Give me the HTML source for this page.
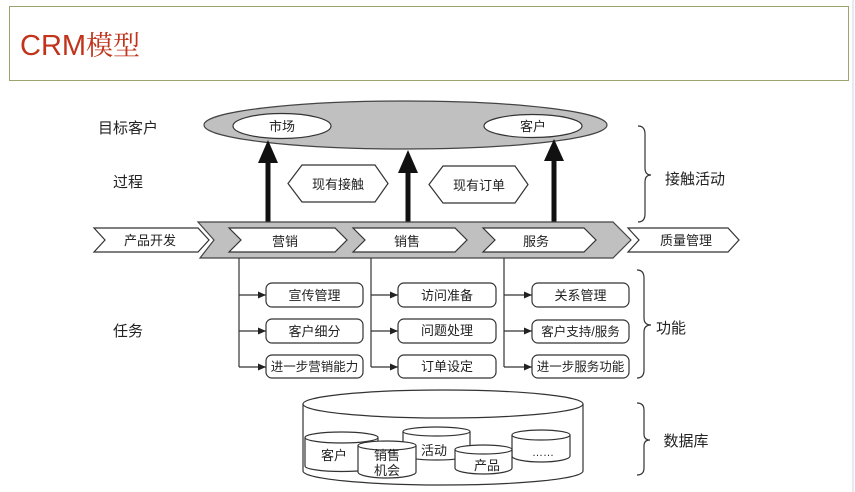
<!DOCTYPE html>
<html><head><meta charset="utf-8"><style>
html,body{margin:0;padding:0;background:#fff;}
body{width:855px;height:492px;position:relative;overflow:hidden;}
.title{position:absolute;left:9px;top:6px;width:840px;height:75px;border:1.5px solid #9ba46c;box-sizing:border-box;background:#fff;}
.title span{position:absolute;left:10px;top:20px;font-family:"Liberation Sans","Noto Sans CJK SC",sans-serif;font-size:29px;color:#c1331a;line-height:34px;white-space:nowrap;}
.title span b{font-weight:normal;font-family:"Noto Serif CJK SC","Liberation Serif",serif;font-size:27px;}
svg{position:absolute;left:0;top:0;}
text{font-family:"Liberation Sans","Noto Sans CJK SC",sans-serif;fill:#222;}
</style></head><body>
<div style="position:absolute;left:852px;top:0;width:2px;height:492px;background:#e9e9ef;"></div>
<div class="title"><span>CRM<b>模型</b></span></div>
<svg width="855" height="492" viewBox="0 0 855 492" xmlns="http://www.w3.org/2000/svg">
<defs>
<marker id="ah" markerWidth="8" markerHeight="8" refX="8" refY="4" orient="auto" markerUnits="userSpaceOnUse">
<path d="M0,0.5 L8,4 L0,7.5 Z" fill="#222"/>
</marker>
</defs>
<!-- big ellipse -->
<ellipse cx="405.5" cy="125" rx="201.5" ry="24" fill="#c0c0c0" stroke="#444" stroke-width="1.2"/>
<ellipse cx="282" cy="126" rx="49" ry="12.5" fill="#fff" stroke="#333" stroke-width="1.2"/>
<text x="282" y="131" font-size="13" text-anchor="middle">市场</text>
<ellipse cx="533" cy="126" rx="49" ry="11.5" fill="#fff" stroke="#333" stroke-width="1.2"/>
<text x="533" y="131" font-size="13" text-anchor="middle">客户</text>

<!-- left labels -->
<text x="128" y="133" font-size="15" text-anchor="middle">目标客户</text>
<text x="128" y="187" font-size="15" text-anchor="middle">过程</text>
<text x="128" y="336" font-size="15" text-anchor="middle">任务</text>

<!-- arrows -->
<rect x="265.5" y="160" width="5" height="63" fill="#111"/>
<polygon points="268,140 258,163 278,163" fill="#111"/>
<rect x="405.5" y="170" width="5" height="53" fill="#111"/>
<polygon points="408,150 398,173 418,173" fill="#111"/>
<rect x="551.5" y="158" width="5" height="65" fill="#111"/>
<polygon points="554,139 544,161 564,161" fill="#111"/>

<!-- hexagons -->
<polygon points="288,183.5 302,165 375,165 388,183.5 375,202 302,202" fill="#fff" stroke="#333" stroke-width="1.2"/>
<text x="338" y="189" font-size="13" text-anchor="middle">现有接触</text>
<polygon points="429,184.5 443,166 515,166 528,184.5 515,203 443,203" fill="#fff" stroke="#333" stroke-width="1.2"/>
<text x="479" y="190" font-size="13" text-anchor="middle">现有订单</text>

<!-- brace 接触活动 -->
<path d="M638,126 Q645,126 645,134 L645,168 Q645,175 651,175 Q645,175 645,182 L645,214 Q645,222 638,222" fill="none" stroke="#333" stroke-width="1.2"/>
<text x="695" y="184" font-size="15" text-anchor="middle">接触活动</text>

<!-- gray process bar -->
<polygon points="198,222 613,222 631,240 613,258 200,258 214,240" fill="#c0c0c0" stroke="#444" stroke-width="1.2"/>
<!-- chevrons -->
<polygon points="94,228 198,228 209,240 198,252 94,252 105,240" fill="#fff" stroke="#333" stroke-width="1.2"/>
<text x="150" y="245" font-size="13" text-anchor="middle">产品开发</text>
<polygon points="229,228 335,228 347,240 335,252 229,252 241,240" fill="#fff" stroke="#333" stroke-width="1.2"/>
<text x="285" y="246" font-size="13" text-anchor="middle">营销</text>
<polygon points="353,228 455,228 467,240 455,252 353,252 365,240" fill="#fff" stroke="#333" stroke-width="1.2"/>
<text x="407" y="246" font-size="13" text-anchor="middle">销售</text>
<polygon points="483,228 584,228 596,240 584,252 483,252 495,240" fill="#fff" stroke="#333" stroke-width="1.2"/>
<text x="536" y="246" font-size="13" text-anchor="middle">服务</text>
<polygon points="628,228 728,228 739,240 728,252 628,252 639,240" fill="#fff" stroke="#333" stroke-width="1.2"/>
<text x="686" y="245" font-size="13" text-anchor="middle">质量管理</text>

<!-- task trees -->
<g stroke="#333" stroke-width="1.2" fill="none">
<line x1="239" y1="258" x2="239" y2="367"/>
<line x1="239" y1="295" x2="266" y2="295" marker-end="url(#ah)"/>
<line x1="239" y1="331" x2="266" y2="331" marker-end="url(#ah)"/>
<line x1="239" y1="367" x2="266" y2="367" marker-end="url(#ah)"/>
<line x1="371" y1="258" x2="371" y2="367"/>
<line x1="371" y1="295" x2="398" y2="295" marker-end="url(#ah)"/>
<line x1="371" y1="331" x2="398" y2="331" marker-end="url(#ah)"/>
<line x1="371" y1="367" x2="398" y2="367" marker-end="url(#ah)"/>
<line x1="504" y1="258" x2="504" y2="367"/>
<line x1="504" y1="295" x2="532" y2="295" marker-end="url(#ah)"/>
<line x1="504" y1="331" x2="532" y2="331" marker-end="url(#ah)"/>
<line x1="504" y1="367" x2="532" y2="367" marker-end="url(#ah)"/>
</g>
<g fill="#fff" stroke="#333" stroke-width="1.2">
<rect x="266" y="283" width="97" height="24" rx="6"/>
<rect x="266" y="319" width="97" height="24" rx="6"/>
<rect x="266" y="355" width="97" height="23" rx="6"/>
<rect x="398" y="283" width="98" height="24" rx="6"/>
<rect x="398" y="319" width="98" height="24" rx="6"/>
<rect x="398" y="355" width="98" height="23" rx="6"/>
<rect x="532" y="283" width="97" height="24" rx="6"/>
<rect x="532" y="320" width="97" height="23" rx="6"/>
<rect x="532" y="355" width="97" height="23" rx="6"/>
</g>
<g font-size="13" text-anchor="middle">
<text x="314.5" y="300">宣传管理</text>
<text x="314.5" y="336">客户细分</text>
<text x="314.5" y="371" font-size="12.5">进一步营销能力</text>
<text x="447" y="300">访问准备</text>
<text x="447" y="335">问题处理</text>
<text x="447" y="371">订单设定</text>
<text x="580.5" y="300">关系管理</text>
<text x="580.5" y="336" font-size="12.5">客户支持/服务</text>
<text x="580.5" y="371" font-size="12.5">进一步服务功能</text>
</g>

<!-- brace 功能 -->
<path d="M637,270 Q644,270 644,278 L644,318 Q644,325 651,325 Q644,325 644,332 L644,370 Q644,378 637,378" fill="none" stroke="#333" stroke-width="1.2"/>
<text x="671" y="333" font-size="15" text-anchor="middle">功能</text>

<!-- database -->
<path d="M303,404 L303,471 A140,14 0 0 0 583,471 L583,404" fill="#fff" stroke="#333" stroke-width="1.2"/>
<ellipse cx="443" cy="404" rx="140" ry="14" fill="#fff" stroke="#333" stroke-width="1.2"/>

<g fill="#fff" stroke="#333" stroke-width="1.2">
<!-- 客户 -->
<path d="M305,437.5 L305,466 A36.5,5.5 0 0 0 378,466 L378,437.5"/>
<ellipse cx="341.5" cy="437.5" rx="36.5" ry="5.5"/>
<!-- 活动 -->
<path d="M403,431.5 L403,455 A33.5,5 0 0 0 470,455 L470,431.5"/>
<ellipse cx="436.5" cy="431.5" rx="33.5" ry="4.5"/>
<!-- ...... -->
<path d="M512,435 L512,456 A29,6 0 0 0 570,456 L570,435"/>
<ellipse cx="541" cy="435" rx="29" ry="5"/>
<!-- 销售机会 -->
<path d="M358,445.5 L358,472 A29,6 0 0 0 416,472 L416,445.5"/>
<ellipse cx="387" cy="445.5" rx="29" ry="4.5"/>
<!-- 产品 -->
<path d="M455,449.5 L455,468 A28.5,6 0 0 0 512,468 L512,449.5"/>
<ellipse cx="483.5" cy="449.5" rx="28.5" ry="4.5"/>
</g>
<g font-size="13" text-anchor="middle">
<text x="334" y="460">客户</text>
<text x="387" y="460">销售</text>
<text x="387" y="475">机会</text>
<text x="434" y="455">活动</text>
<text x="487" y="470">产品</text>
<text x="543" y="456" font-size="11">……</text>
</g>

<!-- brace 数据库 -->
<path d="M637,403 Q644,403 644,410 L644,434 Q644,440 650,440 Q644,440 644,446 L644,468 Q644,475 637,475" fill="none" stroke="#333" stroke-width="1.2"/>
<text x="686" y="446" font-size="15" text-anchor="middle">数据库</text>
</svg>
</body></html>
